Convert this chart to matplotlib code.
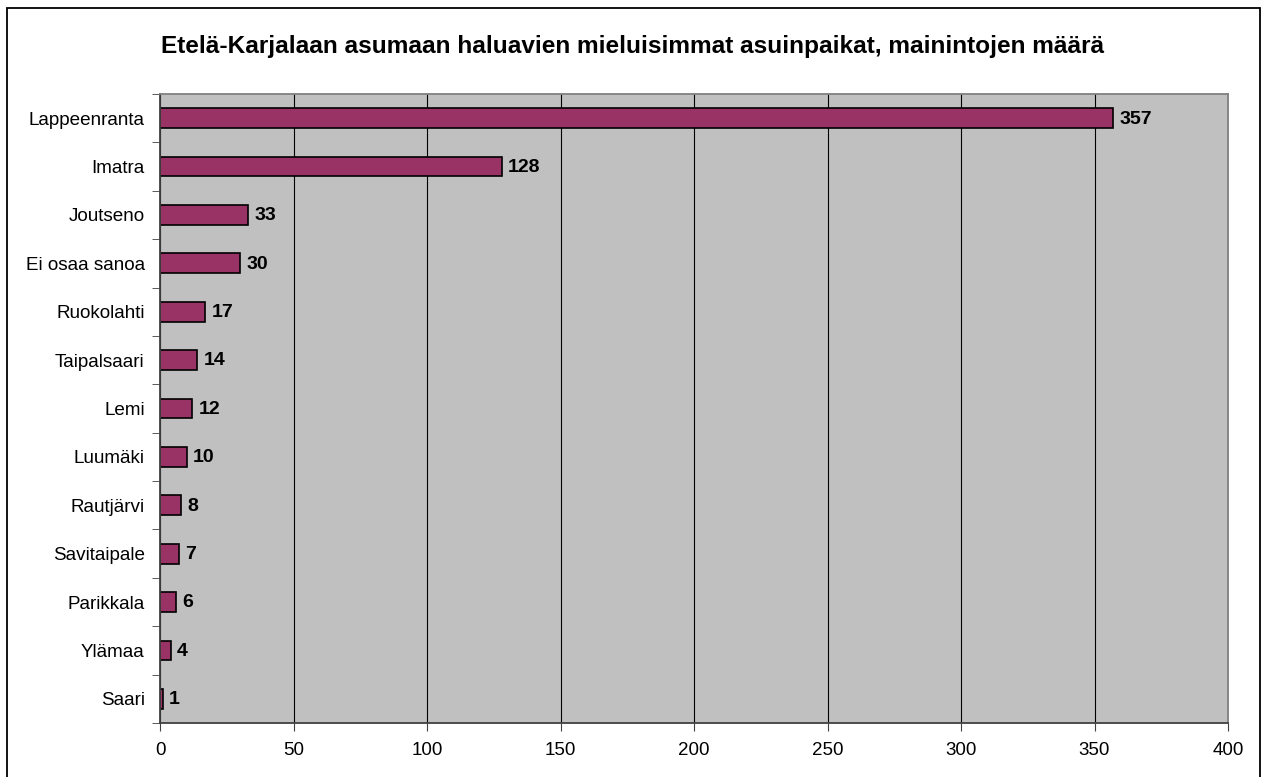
import matplotlib

matplotlib.use("Agg")
import matplotlib.pyplot as plt
from matplotlib.patches import Rectangle
from matplotlib.ticker import FixedLocator, MultipleLocator

plt.rcParams["font.family"] = ["Liberation Sans", "DejaVu Sans"]

TITLE = "Etelä-Karjalaan asumaan haluavien mieluisimmat asuinpaikat, mainintojen määrä"
places = [
    "Lappeenranta", "Imatra", "Joutseno", "Ei osaa sanoa", "Ruokolahti",
    "Taipalsaari", "Lemi", "Luumäki", "Rautjärvi", "Savitaipale",
    "Parikkala", "Ylämaa", "Saari",
]
mentions = [357, 128, 33, 30, 17, 14, 12, 10, 8, 7, 6, 4, 1]

W, H = 1266, 777
fig = plt.figure(figsize=(W / 100, H / 100), dpi=100)
fig.patch.set_facecolor("white")

# outer chart border (bottom edge runs off the image)
fig.patches.append(Rectangle((7 / W, -0.02), (1260 - 7) / W, 1.02 - 8 / H,
                             transform=fig.transFigure, fill=False,
                             edgecolor="black", linewidth=1.3))

left, right, top, bottom = 160, 1228, 94, 723
ax = fig.add_axes([left / W, 1 - bottom / H, (right - left) / W, (bottom - top) / H])
ax.set_facecolor("#C0C0C0")

pos = list(range(len(places)))
ax.set_axisbelow(True)
ax.xaxis.grid(True, color="black", linewidth=0.8)
ax.barh(pos, mentions, height=0.41, color="#993366", edgecolor="black", linewidth=1.2)

for p, v in zip(pos, mentions):
    ax.annotate(str(v), (v, p), xytext=(4.5, -0.6), textcoords="offset points",
                ha="left", va="center", fontsize=14, fontweight="bold")

ax.set_xlim(0, 400)
ax.set_ylim(len(places) - 0.5, -0.5)
ax.xaxis.set_major_locator(MultipleLocator(50))
ax.set_yticks(pos)
ax.set_yticklabels(places)
ax.yaxis.set_minor_locator(FixedLocator([i - 0.5 for i in range(len(places) + 1)]))
ax.tick_params(axis="y", which="major", length=0, pad=11, labelsize=13.6)
ax.tick_params(axis="y", which="minor", length=6, color="#404040")
ax.tick_params(axis="x", length=6, pad=8, labelsize=13.5, color="#404040")

for s in ax.spines.values():
    s.set_color("#808080")
    s.set_linewidth(1.3)
ax.spines["left"].set_color("#404040")
ax.spines["bottom"].set_color("#404040")

fig.text(0.5, 1 - 47 / H, TITLE, ha="center", va="center",
         fontsize=17.6, fontweight="bold")

fig.savefig("out.png", dpi=100)
